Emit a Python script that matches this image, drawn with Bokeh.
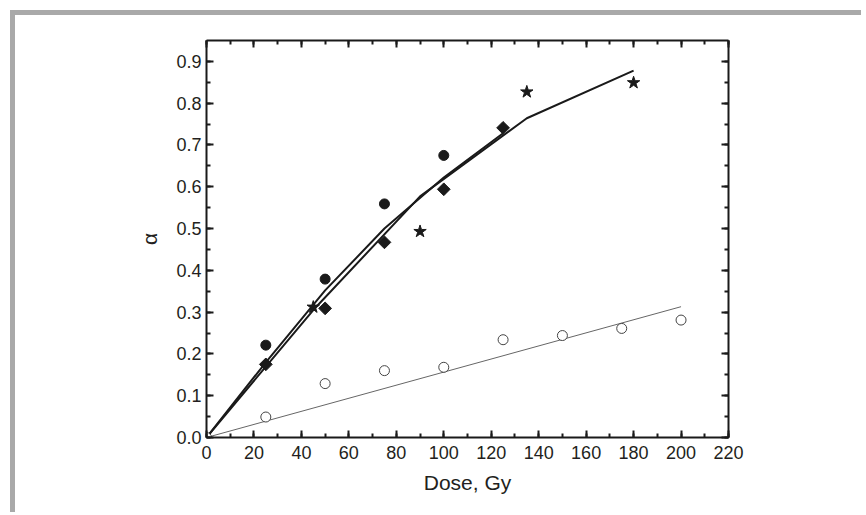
from bokeh.plotting import figure
from bokeh.models import Range1d, LinearAxis, SingleIntervalTicker, PrintfTickFormatter
from bokeh.embed import file_html
from bokeh.resources import INLINE

# ---- data ----
dose_circ = [25, 50, 75, 100]
alpha_circ = [0.221, 0.379, 0.559, 0.675]

dose_diam = [25, 50, 75, 100, 125]
alpha_diam = [0.175, 0.309, 0.467, 0.594, 0.741]

dose_star = [45, 90, 135, 180]
alpha_star = [0.312, 0.493, 0.827, 0.849]

dose_open = [0, 25, 50, 75, 100, 125, 150, 175, 200]
alpha_open = [0.0, 0.049, 0.129, 0.160, 0.168, 0.234, 0.244, 0.261, 0.281]

fit_a_dose = [0, 25, 50, 75, 100, 125]
fit_a = [0.0, 0.18, 0.352, 0.50, 0.622, 0.728]

fit_b_dose = [0, 45, 90, 135, 180]
fit_b = [0.0, 0.305, 0.577, 0.764, 0.878]

lin_dose = [0, 200]
lin_alpha = [0.0, 0.313]

FONT = "Liberation Sans"
TXT = "#231f20"
INK = "#1a1a1a"

p = figure(frame_width=522, frame_height=397,
           min_border_left=191, min_border_top=25,
           min_border_right=133, min_border_bottom=75,
           x_range=Range1d(0, 220), y_range=Range1d(0, 0.95),
           output_backend="svg", toolbar_location=None,
           x_axis_label="Dose, Gy", y_axis_label="α")
p.styles = {"border-top": "5px solid #a9a9a9", "border-left": "5px solid #a9a9a9",
            "margin-top": "10px", "margin-left": "10px"}
p.xgrid.visible = False
p.ygrid.visible = False
p.outline_line_color = None
p.background_fill_color = "white"
p.border_fill_color = "white"

xt = SingleIntervalTicker(interval=20, num_minor_ticks=2)
yt = SingleIntervalTicker(interval=0.1, num_minor_ticks=2)


def style_axis(ax, labels=True):
    ax.axis_line_width = 2
    ax.axis_line_color = INK
    ax.major_tick_line_width = 2
    ax.major_tick_line_color = INK
    ax.minor_tick_line_width = 2
    ax.minor_tick_line_color = INK
    ax.major_tick_in = 7
    ax.major_tick_out = 0
    ax.minor_tick_in = 4
    ax.minor_tick_out = 0
    ax.major_label_text_font = FONT
    ax.axis_label_text_font = FONT
    ax.axis_label_text_color = TXT
    ax.axis_label_text_font_style = "normal"
    if labels:
        ax.major_label_text_color = TXT
        ax.major_label_text_font_size = "18px"
        ax.axis_label_text_font_size = "21px"
        ax.major_label_standoff = 5
    else:
        ax.major_label_text_color = None
        ax.major_label_text_font_size = "0px"
        ax.major_label_standoff = 0


xa = p.xaxis[0]
xa.ticker = xt
style_axis(xa)
xa.major_label_standoff = 8
xa.axis_label_standoff = 9

ya = p.yaxis[0]
ya.ticker = yt
ya.formatter = PrintfTickFormatter(format="%.1f")
style_axis(ya)
ya.axis_label_standoff = 12

top = LinearAxis(ticker=SingleIntervalTicker(interval=20, num_minor_ticks=2))
style_axis(top, labels=False)
p.add_layout(top, "above")
right = LinearAxis(ticker=SingleIntervalTicker(interval=0.1, num_minor_ticks=2))
style_axis(right, labels=False)
p.add_layout(right, "right")

# fitted curves
p.line(lin_dose, lin_alpha, line_color="#666666", line_width=1)
p.line(fit_a_dose, fit_a, line_color=INK, line_width=2)
p.line(fit_b_dose, fit_b, line_color=INK, line_width=2)

# data points
p.scatter(dose_open, alpha_open, marker="circle", size=10,
          fill_color="white", line_color="#444444", line_width=1)
p.scatter(dose_circ, alpha_circ, marker="circle", size=10,
          fill_color=INK, line_color=INK)
p.scatter(dose_diam, alpha_diam, marker="square", size=9, angle=0.785398,
          fill_color=INK, line_color=INK)
p.scatter(dose_star, alpha_star, marker="star", size=13,
          fill_color=INK, line_color=INK)

open("out.html", "w").write(file_html(p, INLINE))
